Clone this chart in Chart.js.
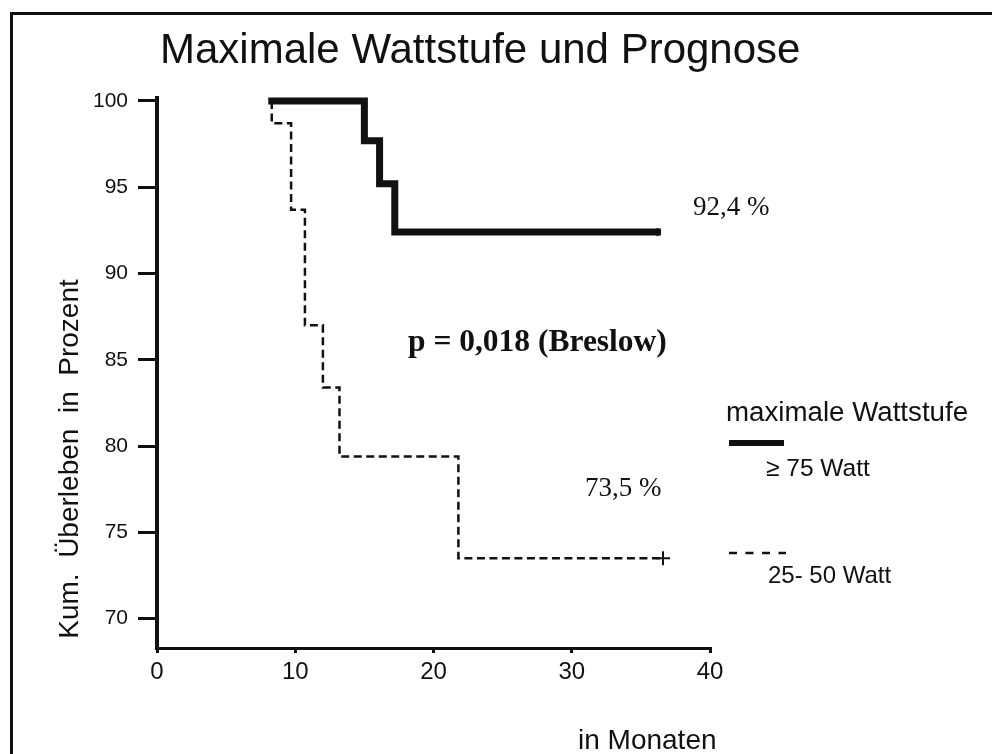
<!DOCTYPE html>
<html>
<head>
<meta charset="utf-8">
<script src="https://cdn.jsdelivr.net/npm/chart.js@4/dist/chart.umd.min.js"></script>
<style>
  html, body { margin: 0; padding: 0; background: #fff; }
  canvas { display: block; }
</style>
</head>
<body>
<canvas id="c" width="992" height="754"></canvas>
<script>
// ---- data ----
const chartTitle = 'Maximale Wattstufe und Prognose';
const yAxisTitle = 'Kum.  Überleben  in  Prozent';
const xAxisTitle = 'in Monaten';
const xTicks = [0, 10, 20, 30, 40];
const yTicks = [70, 75, 80, 85, 90, 95, 100];

const seriesHighLabel = '≥ 75 Watt';
const monthsHigh = [8.3, 15.0, 16.1, 17.2, 36.2];
const survivalHigh = [100, 97.7, 95.2, 92.4, 92.4];

const seriesLowLabel = '25- 50 Watt';
const monthsLow = [8.3, 8.3, 9.7, 10.7, 12.0, 13.2, 21.8, 36.6];
const survivalLow = [100, 98.7, 93.7, 87.0, 83.4, 79.4, 73.5, 73.5];

const legendTitle = 'maximale Wattstufe';
const endLabelHigh = '92,4 %';
const endLabelLow = '73,5 %';
const pValueText = 'p = 0,018 (Breslow)';

const SANS = '"Liberation Sans", Arial, Helvetica, sans-serif';
const SERIF = '"Liberation Serif", "Times New Roman", serif';
const INK = '#111';

function toPoints(xs, ys) { return xs.map((x, i) => ({ x: x, y: ys[i] })); }

const overlay = {
  id: 'overlay',
  beforeDraw(chart) {
    const ctx = chart.ctx;
    ctx.save();
    ctx.fillStyle = '#fff';
    ctx.fillRect(0, 0, chart.width, chart.height);
    ctx.restore();
  },
  afterDraw(chart) {
    const ctx = chart.ctx;
    ctx.save();
    ctx.fillStyle = INK;
    ctx.strokeStyle = INK;
    ctx.textBaseline = 'alphabetic';

    // frame (left + top)
    ctx.lineWidth = 3;
    ctx.beginPath();
    ctx.moveTo(11.5, 754);
    ctx.lineTo(11.5, 13.5);
    ctx.lineTo(992, 13.5);
    ctx.stroke();

    // title
    ctx.font = '42px ' + SANS;
    ctx.textAlign = 'left';
    ctx.fillText(chartTitle, 160, 63);

    // y axis title
    ctx.save();
    ctx.translate(78, 459);
    ctx.rotate(-Math.PI / 2);
    ctx.font = '28px ' + SANS;
    ctx.textAlign = 'center';
    ctx.fillText(yAxisTitle, 0, 0);
    ctx.restore();

    // x axis title
    ctx.font = '28px ' + SANS;
    ctx.textAlign = 'left';
    ctx.fillText(xAxisTitle, 578, 749);

    // annotations
    ctx.font = '27px ' + SERIF;
    ctx.fillText(endLabelHigh, 693, 215);
    ctx.fillText(endLabelLow, 585, 496);
    ctx.font = 'bold 31.5px ' + SERIF;
    ctx.fillText(pValueText, 408, 351);

    // legend
    ctx.font = '27.7px ' + SANS;
    ctx.fillText(legendTitle, 726, 421);
    ctx.lineWidth = 6;
    ctx.beginPath();
    ctx.moveTo(729, 443);
    ctx.lineTo(784, 443);
    ctx.stroke();
    ctx.font = '24.5px ' + SANS;
    ctx.fillText(seriesHighLabel, 766, 476);

    ctx.lineWidth = 2.5;
    ctx.setLineDash([8, 8.5]);
    ctx.beginPath();
    ctx.moveTo(729, 553);
    ctx.lineTo(786, 553);
    ctx.stroke();
    ctx.setLineDash([]);
    ctx.font = '24px ' + SANS;
    ctx.fillText(seriesLowLabel, 768, 583);

    ctx.restore();
  }
};

Chart.defaults.font.family = SANS;
Chart.defaults.color = INK;

new Chart(document.getElementById('c'), {
  type: 'scatter',
  data: {
    datasets: [
      {
        label: seriesHighLabel,
        data: toPoints(monthsHigh, survivalHigh),
        showLine: true,
        stepped: true,
        borderColor: INK,
        backgroundColor: INK,
        borderWidth: 7,
        borderCapStyle: 'square',
        borderJoinStyle: 'miter',
        pointRadius: monthsHigh.map((m, i) => i === monthsHigh.length - 1 ? 4 : 0),
        pointStyle: 'line',
        rotation: 90,
        pointBorderWidth: 2,
        clip: false
      },
      {
        label: seriesLowLabel,
        data: toPoints(monthsLow, survivalLow),
        showLine: true,
        stepped: true,
        borderColor: INK,
        backgroundColor: INK,
        borderWidth: 2.5,
        borderDash: [8, 4.5],
        pointRadius: monthsLow.map((m, i) => i === monthsLow.length - 1 ? 7 : 0),
        pointStyle: 'cross',
        pointBorderWidth: 2,
        clip: false
      }
    ]
  },
  options: {
    responsive: false,
    animation: false,
    events: [],
    layout: { padding: { left: 0, top: 98, right: 282, bottom: 0 } },
    plugins: {
      legend: { display: false },
      title: { display: false },
      tooltip: { enabled: false }
    },
    scales: {
      x: {
        type: 'linear',
        min: 0,
        max: 40,
        afterFit(scale) { scale.height = 106; },
        afterBuildTicks(scale) { scale.ticks = xTicks.map(v => ({ value: v })); },
        ticks: { font: { size: 24 }, color: INK, padding: 5, maxRotation: 0, autoSkip: false },
        grid: { display: true, drawOnChartArea: false, drawTicks: true, tickLength: 5, lineWidth: 3, color: INK },
        border: { display: true, width: 3, color: INK }
      },
      y: {
        type: 'linear',
        min: 68.3,
        max: 100.17,
        afterFit(scale) { scale.width = 157; },
        afterBuildTicks(scale) { scale.ticks = yTicks.map(v => ({ value: v })); },
        ticks: { font: { size: 21 }, color: INK, padding: 10, autoSkip: false },
        grid: { display: true, drawOnChartArea: false, drawTicks: true, tickLength: 19, lineWidth: 3, color: INK },
        border: { display: true, width: 4, color: INK }
      }
    }
  },
  plugins: [overlay]
});
</script>
</body>
</html>
